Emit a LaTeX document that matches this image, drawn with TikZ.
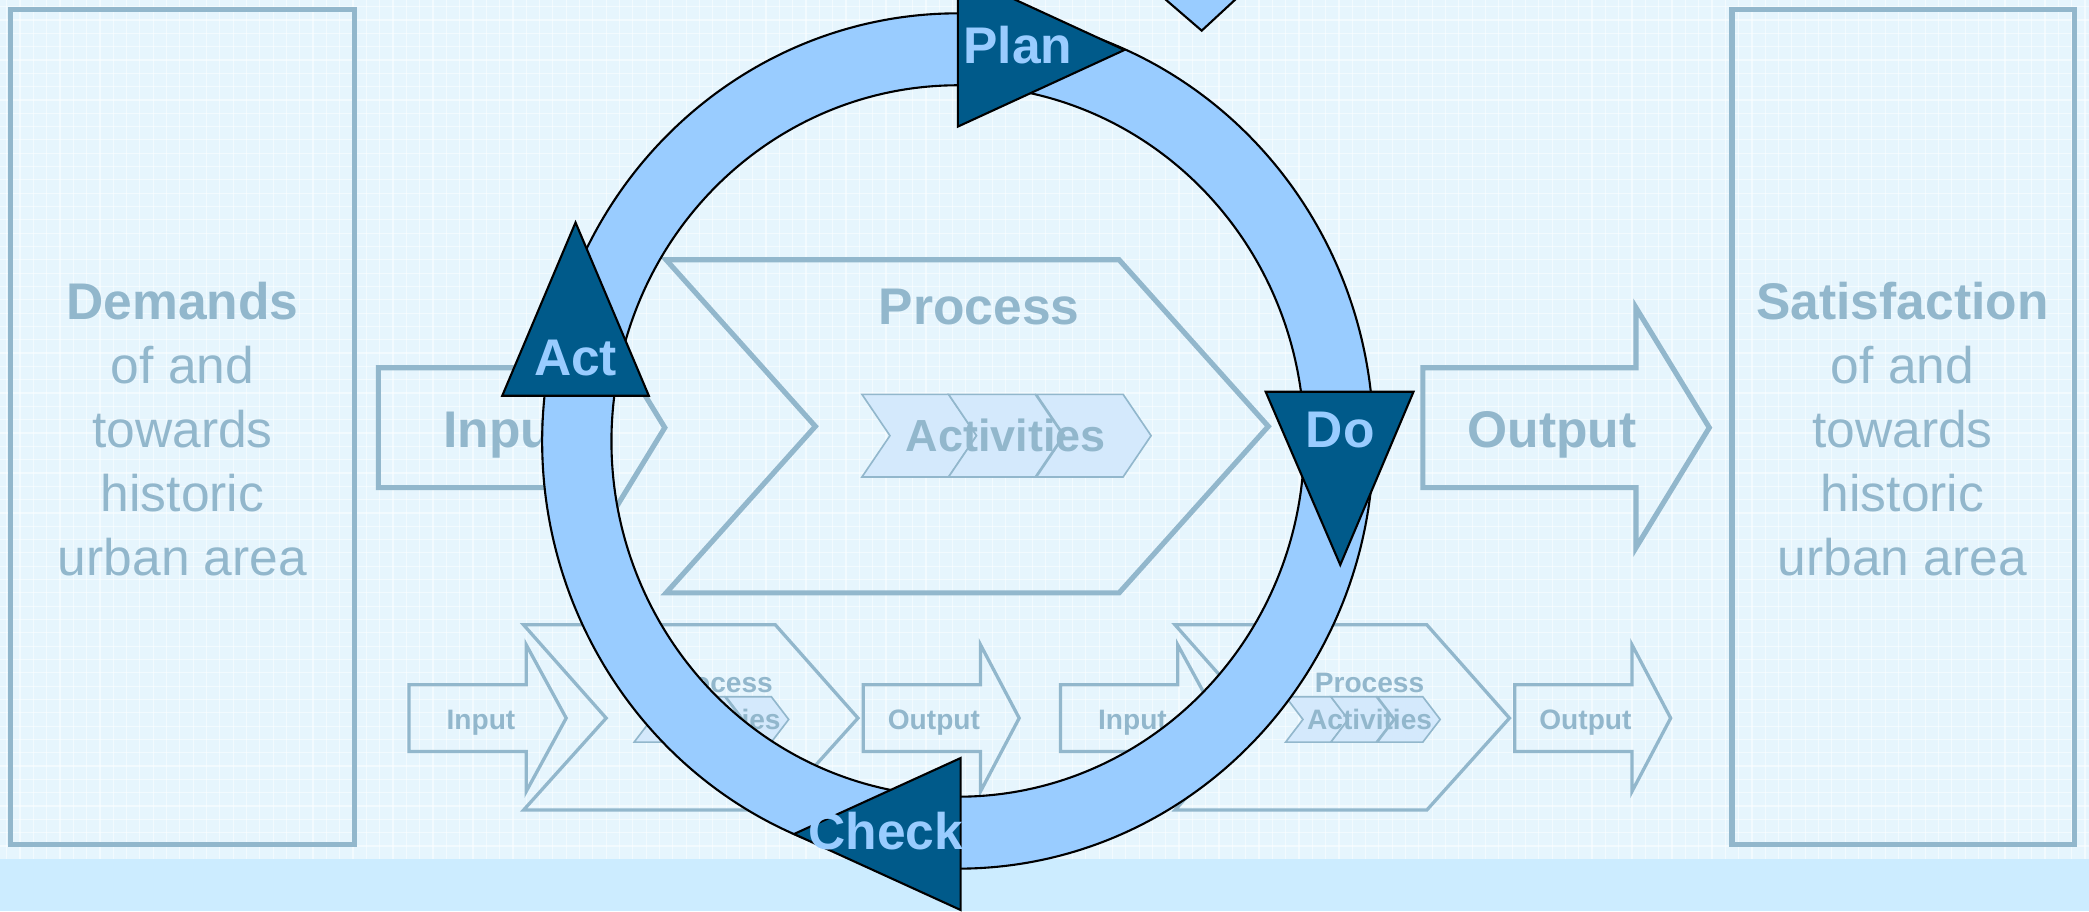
\documentclass[tikz,border=0pt]{standalone}
\usepackage{fontspec}
\setmainfont{Liberation Sans}
\definecolor{bgc}{RGB}{230,245,253}
\definecolor{bandc}{RGB}{204,236,255}
\definecolor{faintc}{RGB}{146,183,204}
\definecolor{txtc}{RGB}{146,183,204}
\definecolor{actc}{RGB}{212,233,252}
\definecolor{ringc}{RGB}{153,204,255}
\definecolor{headc}{RGB}{0,90,138}
\newcommand{\ringsegment}[2]{%
  \filldraw[ring] ({719+312*cos(#1)},{331-321*sin(#1)})
    arc[start angle={-(#1)}, end angle={-(#2)}, x radius=312, y radius=321]
    -- ({719+260*cos(#2)},{331-267*sin(#2)})
    arc[start angle={-(#2)}, end angle={-(#1)}, x radius=260, y radius=267]
    -- cycle;}
\begin{document}
\begin{tikzpicture}[x=0.01cm,y=-0.01cm,
  bigline/.style={draw=faintc,line width=1.1pt,line join=miter},
  smallline/.style={draw=faintc,line width=0.7pt,line join=miter},
  actshape/.style={fill=actc,draw=faintc,line width=0.35pt},
  boxtext/.style={text=txtc,font=\fontsize{11}{13.66}\selectfont,align=center,inner sep=0pt},
  bigbold/.style={text=txtc,font=\fontsize{11}{13}\selectfont\bfseries,inner sep=0pt,text height=7.9pt,text depth=0pt},
  midbold/.style={text=txtc,font=\fontsize{9.6}{11}\selectfont\bfseries,inner sep=0pt,text height=6.9pt,text depth=0pt},
  smallbold/.style={text=txtc,font=\fontsize{6}{7}\selectfont\bfseries,inner sep=0pt,text height=4.3pt,text depth=0pt},
  ring/.style={fill=ringc,draw=black,line width=0.45pt},
  head/.style={fill=headc,draw=black,line width=0.45pt,line join=miter},
  headtext/.style={text=ringc,font=\fontsize{11}{13}\selectfont\bfseries,inner sep=0pt,text height=7.9pt,text depth=0pt},
]
\useasboundingbox (0,0) rectangle (1568,684);
% background
\fill[bgc] (0,0) rectangle (1568,645);
\foreach \i in {5,15,...,1565} \draw[white,opacity=0.5,line width=0.25pt] (\i,0) -- (\i,645);
\foreach \j in {5,15,...,645} \draw[white,opacity=0.5,line width=0.25pt] (0,\j) -- (1568,\j);
\fill[bandc] (0,645) rectangle (1568,684);

% side boxes
\draw[bigline] (8,7) rectangle (266,634);
\draw[bigline] (1300,7) rectangle (1557,634);
\node[boxtext] (demands) at (137,322) {\textbf{Demands}\\of and\\towards\\historic\\urban area};
\node[boxtext] (satisfaction) at (1428,322) {\textbf{Satisfaction}\\of and\\towards\\historic\\urban area};

% big input / process / output
\draw[bigline] (284,276) -- (444,276) -- (444,231) -- (499,321) -- (444,411) -- (444,366) -- (284,366) -- cycle;
\draw[bigline] (500,195) -- (840,195) -- (952,320) -- (840,445) -- (500,445) -- (612,320) -- cycle;
\foreach \a in {647,712,778}
  \filldraw[actshape] (\a,296) -- ++(65,0) -- ++(21,31) -- ++(-21,31) -- ++(-65,0) -- ++(21,-31) -- cycle;
\draw[bigline] (1068,276) -- (1228,276) -- (1228,231) -- (1283,321) -- (1228,411) -- (1228,366) -- (1068,366) -- cycle;
\node[bigbold] (input) at (380,322) {Input};
\node[bigbold] (process) at (735,230) {Process};
\node[midbold] (activities) at (755,327) {Activities};
\node[bigbold] (output) at (1165,322) {Output};

% small copies
\foreach \s/\n in {0/a,489/b} {
\begin{scope}[shift={(\s,0)}]
  \draw[smallline] (307,514) -- (395,514) -- (395,484) -- (425,539) -- (395,594) -- (395,564) -- (307,564) -- cycle;
  \draw[smallline] (393,469) -- (582,469) -- (644,539) -- (582,608) -- (393,608) -- (455,539) -- cycle;
  \foreach \a in {476,510,545}
    \filldraw[actshape] (\a,523) -- ++(34,0) -- ++(13,17) -- ++(-13,17) -- ++(-34,0) -- ++(13,-17) -- cycle;
  \draw[smallline] (648,514) -- (736,514) -- (736,484) -- (765,539) -- (736,594) -- (736,564) -- (648,564) -- cycle;
  \node[smallbold] (sinput\n) at (361,540) {Input};
  \node[smallbold] (sprocess\n) at (539,512) {Process};
  \node[smallbold] (sactivities\n) at (539,540) {Activities};
  \node[smallbold] (soutput\n) at (701,540) {Output};
\end{scope}
}

% PDCA ring
\ringsegment{167}{89}
\ringsegment{80}{4}
\ringsegment{-2}{-91}
\ringsegment{-100}{-190}

% stray light triangle at top
\fill[ringc] (873,-2) -- (902,23) -- (929,-2) -- cycle;
\draw[black,line width=0.45pt] (873,-2) -- (902,23) -- (929,-2);

% arrowheads
\filldraw[head] (719,-20) -- (719,95) -- (844,37.5) -- cycle;
\filldraw[head] (950,294) -- (1061,294) -- (1006,424) -- cycle;
\filldraw[head] (721,569) -- (721,683) -- (596,626) -- cycle;
\filldraw[head] (432,167) -- (377,297) -- (487,297) -- cycle;
\node[headtext] (plan) at (764,34) {Plan};
\node[headtext] (do) at (1006,322) {Do};
\node[headtext] (check) at (665,624) {Check};
\node[headtext] (act) at (432,268) {Act};
\end{tikzpicture}
\end{document}
